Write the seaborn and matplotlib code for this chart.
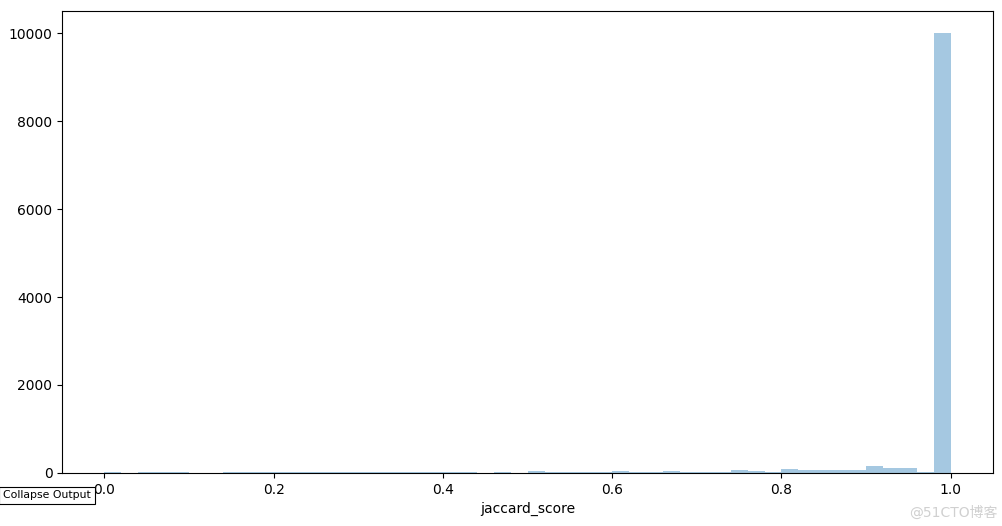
import numpy as np
import pandas as pd
import seaborn as sns
import matplotlib
matplotlib.use('Agg')
import matplotlib.pyplot as plt

# histogram of jaccard_score, 50 bins of width 0.02 between 0 and 1
bin_edges = [round(i * 0.02, 2) for i in range(51)]
counts = [12, 0, 10, 10, 10, 0, 0,
          10, 10, 10, 10, 10, 10, 10, 10, 10,
          10, 10, 10, 10, 10, 10,
          0, 18, 0, 38,
          10, 10, 10, 10,
          35, 10, 10, 35,
          14, 14, 14,
          60, 35, 14, 85,
          55, 55, 55,
          75, 150, 105, 105,
          15, 10010]

centers = [e + 0.01 for e in bin_edges[:-1]]
df = pd.DataFrame({'jaccard_score': centers, 'n': counts})

plt.rcParams['font.family'] = ['DejaVu Sans', 'Noto Sans CJK SC']
fig, ax = plt.subplots(figsize=(10.03, 5.26), dpi=100)
fig.subplots_adjust(left=0.062, right=0.99, top=0.979, bottom=0.101)

sns.histplot(data=df, x='jaccard_score', weights='n', bins=50, binrange=(0, 1),
             color='C0', alpha=0.4, linewidth=0, ax=ax)
ax.set_ylabel('')
ax.set_xlabel('jaccard_score')
ax.set_xlim(-0.05, 1.05)

# notebook overlay and watermark seen in the screenshot
fig.text(0.003, 0.058, 'Collapse Output', fontsize=7.8, ha='left', va='center',
         bbox=dict(boxstyle='square,pad=0.35', fc='white', ec='black', lw=0.8))
fig.text(0.995, 0.025, '@51CTO博客', fontsize=10, color='#d0d0d0',
         ha='right', va='center', family=['DejaVu Sans', 'Noto Sans CJK SC'])

fig.savefig('out.png')
